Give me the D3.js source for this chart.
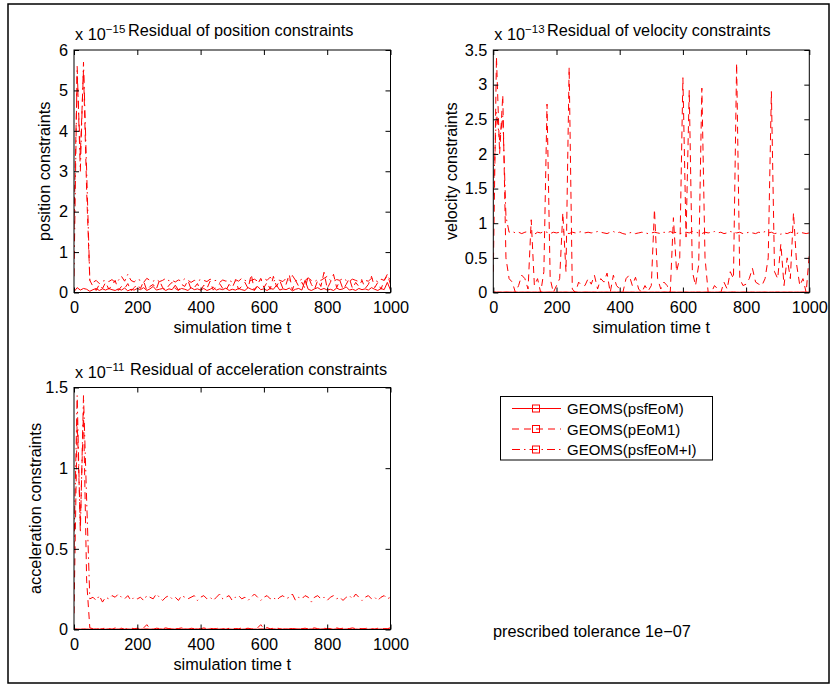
<!DOCTYPE html>
<html>
<head>
<meta charset="utf-8">
<script src="https://cdn.jsdelivr.net/npm/d3@7"></script>
<style>
  html, body { margin: 0; padding: 0; background: #fff; }
  svg { display: block; font-family: "Liberation Sans", Arial, Helvetica, sans-serif; }
</style>
</head>
<body>
<svg id="chart" width="834" height="686"></svg>
<script>
// ---------- data ----------
const simTime = d3.range(0, 1001, 10); // simulation time grid t = 0..1000
const seriesNames = ["GEOMS(psfEoM)", "GEOMS(pEoM1)", "GEOMS(psfEoM+I)"];
const xTicks = [0, 200, 400, 600, 800, 1000];

// position constraint residuals (x 1e-15)
const posPsfEoM = [0.02,
  0.12,0.06,0.1,0.08,0.03,0.07,0.1,0.05,0.09,0.06,
  0.1,0.07,0.05,0.09,0.06,0.11,0.04,0.08,0.06,0.1,
  0.07,0.12,0.05,0.09,0.15,0.06,0.08,0.1,0.05,0.09,
  0.07,0.18,0.06,0.1,0.08,0.05,0.12,0.07,0.09,0.06,
  0.1,0.05,0.08,0.13,0.06,0.09,0.07,0.11,0.05,0.08,
  0.06,0.1,0.07,0.05,0.12,0.08,0.06,0.15,0.07,0.09,
  0.05,0.1,0.08,0.18,0.06,0.09,0.07,0.11,0.04,0.08,
  0.1,0.06,0.3,0.08,0.05,0.09,0.12,0.07,0.1,0.06,
  0.08,0.05,0.11,0.07,0.09,0.14,0.06,0.08,0.05,0.1,
  0.07,0.09,0.06,0.12,0.08,0.05,0.1,0.07,0.25,0.06];
const posPEoM1 = [1.6,
  5.4,3.4,5.5,2.5,0.3,0.15,0.05,0.2,0.1,0.25,
  0.08,0.18,0.3,0.05,0.15,0.1,0.22,0.04,0.12,0.2,
  0.1,0.28,0.05,0.15,0.2,0.08,0.3,0.12,0.06,0.18,
  0.25,0.1,0.05,0.2,0.15,0.3,0.08,0.12,0.22,0.05,
  0.18,0.1,0.28,0.06,0.15,0.22,0.1,0.05,0.2,0.12,
  0.3,0.08,0.15,0.25,0.1,0.45,0.05,0.2,0.35,0.12,
  0.25,0.08,0.4,0.15,0.3,0.1,0.2,0.45,0.06,0.3,
  0.15,0.25,0.1,0.4,0.2,0.08,0.3,0.15,0.5,0.1,
  0.25,0.45,0.12,0.3,0.08,0.2,0.35,0.1,0.25,0.15,
  0.3,0.1,0.2,0.4,0.12,0.25,0.08,0.3,0.45,0.2];
const posPsfEoMI = [0.4,
  5.6,3.0,5.7,3.0,0.3,0.25,0.3,0.22,0.28,0.3,
  0.27,0.32,0.25,0.3,0.4,0.28,0.45,0.3,0.26,0.33,
  0.3,0.25,0.35,0.3,0.28,0.32,0.27,0.3,0.35,0.29,
  0.3,0.26,0.31,0.28,0.34,0.3,0.25,0.3,0.28,0.32,
  0.3,0.27,0.33,0.29,0.3,0.25,0.31,0.28,0.3,0.26,
  0.32,0.28,0.35,0.3,0.27,0.3,0.33,0.28,0.3,0.35,
  0.3,0.38,0.28,0.32,0.3,0.27,0.35,0.3,0.42,0.3,
  0.28,0.33,0.3,0.36,0.3,0.27,0.32,0.3,0.35,0.4,
  0.3,0.28,0.32,0.3,0.35,0.3,0.28,0.33,0.3,0.27,
  0.32,0.3,0.28,0.35,0.3,0.27,0.33,0.3,0.42,0.3];

// velocity constraint residuals (x 1e-13)
const velPsfEoM = [0.01,
  0.006,0.008,0.005,0.009,0.007,0.006,0.008,0.005,0.007,0.006,
  0.008,0.005,0.007,0.006,0.009,0.005,0.007,0.008,0.006,0.005,
  0.007,0.006,0.008,0.005,0.007,0.009,0.006,0.005,0.008,0.007,
  0.006,0.008,0.005,0.007,0.006,0.008,0.005,0.007,0.006,0.009,
  0.005,0.007,0.006,0.008,0.005,0.007,0.006,0.008,0.005,0.007,
  0.006,0.008,0.005,0.009,0.007,0.006,0.008,0.005,0.007,0.006,
  0.008,0.005,0.007,0.006,0.009,0.005,0.007,0.008,0.006,0.005,
  0.007,0.006,0.008,0.005,0.007,0.009,0.006,0.005,0.008,0.007,
  0.006,0.008,0.005,0.007,0.006,0.008,0.005,0.007,0.006,0.009,
  0.005,0.007,0.006,0.008,0.005,0.007,0.006,0.008,0.005,0.007];
const velPEoM1 = [0.3,
  3.4,2.0,2.85,0.5,0.2,0.15,0.0,0.1,0.25,0.2,
  0.05,1.05,0.1,0.2,0.0,0.3,2.72,0.2,0.0,0.1,
  0.2,1.15,0.3,3.25,0.05,0.0,0.15,0.1,0.1,0.2,
  0.12,0.25,0.05,0.2,0.15,0.28,0.0,0.25,0.1,0.05,
  0.0,0.2,0.25,0.1,0.22,0.05,0.0,0.1,0.02,0.1,
  1.2,0.2,0.05,0.15,0.1,0.0,1.08,0.3,0.5,3.1,
  0.8,2.92,0.3,0.1,0.4,2.95,0.5,0.0,0.0,0.1,
  0.05,0.0,0.15,0.05,0.3,0.2,3.31,0.2,0.1,0.12,
  0.2,0.35,0.15,0.12,0.1,0.2,0.5,2.9,0.3,0.2,
  0.7,0.1,0.5,0.2,1.15,0.4,0.1,0.2,0.0,0.55];
const velPsfEoMI = [1.4,
  2.6,2.2,2.55,1.1,0.87,0.88,0.86,0.87,0.85,0.87,
  0.88,0.86,0.84,0.87,0.86,0.88,0.87,0.85,0.87,0.86,
  0.87,0.88,0.86,0.85,0.87,0.86,0.87,0.88,0.86,0.87,
  0.86,0.87,0.88,0.87,0.86,0.85,0.87,0.88,0.86,0.87,
  0.85,0.84,0.86,0.87,0.85,0.86,0.87,0.86,0.85,0.86,
  0.87,0.86,0.85,0.87,0.86,0.88,0.86,0.87,0.85,0.86,
  0.87,0.86,0.88,0.87,0.86,0.85,0.87,0.86,0.87,0.88,
  0.86,0.87,0.85,0.86,0.88,0.87,0.86,0.87,0.85,0.86,
  0.87,0.86,0.85,0.87,0.86,0.88,0.86,0.87,0.85,0.86,
  0.84,0.86,0.85,0.87,0.86,0.85,0.87,0.86,0.85,0.86];

// acceleration constraint residuals (x 1e-11)
const accPsfEoM = [0.004,
  0.003,0.002,0.004,0.003,0.002,0.003,0.004,0.002,0.003,0.002,
  0.004,0.003,0.002,0.003,0.004,0.002,0.003,0.002,0.004,0.003,
  0.002,0.003,0.004,0.002,0.003,0.002,0.004,0.003,0.002,0.003,
  0.004,0.002,0.003,0.002,0.004,0.003,0.002,0.003,0.004,0.002,
  0.003,0.002,0.004,0.003,0.002,0.003,0.004,0.002,0.003,0.002,
  0.004,0.003,0.002,0.003,0.004,0.002,0.003,0.002,0.004,0.003,
  0.002,0.003,0.004,0.002,0.003,0.002,0.004,0.003,0.002,0.003,
  0.004,0.002,0.003,0.002,0.004,0.003,0.002,0.003,0.004,0.002,
  0.003,0.002,0.004,0.003,0.002,0.003,0.004,0.002,0.003,0.002,
  0.004,0.003,0.002,0.003,0.004,0.002,0.003,0.002,0.004,0.003];
const accPEoM1 = [0.1,
  1.3,0.65,1.35,0.3,0.01,0.005,0.01,0.0,0.005,0.01,
  0.005,0.0,0.01,0.005,0.008,0.0,0.006,0.01,0.004,0.008,
  0.005,0.01,0.03,0.005,0.0,0.008,0.006,0.004,0.01,0.005,
  0.008,0.004,0.006,0.01,0.005,0.0,0.008,0.005,0.006,0.004,
  0.01,0.005,0.008,0.004,0.006,0.01,0.005,0.0,0.008,0.005,
  0.006,0.004,0.01,0.005,0.008,0.004,0.006,0.01,0.03,0.005,
  0.012,0.004,0.008,0.01,0.005,0.0,0.008,0.005,0.006,0.004,
  0.01,0.005,0.008,0.004,0.006,0.01,0.005,0.0,0.008,0.005,
  0.006,0.004,0.01,0.005,0.008,0.004,0.006,0.01,0.005,0.008,
  0.004,0.006,0.01,0.005,0.0,0.008,0.005,0.006,0.004,0.012];
const accPsfEoMI = [0.5,
  1.45,0.6,1.45,0.8,0.19,0.2,0.18,0.21,0.17,0.2,
  0.19,0.21,0.2,0.22,0.2,0.19,0.21,0.18,0.2,0.19,
  0.2,0.18,0.21,0.2,0.19,0.22,0.2,0.18,0.2,0.21,
  0.19,0.2,0.18,0.21,0.2,0.19,0.2,0.21,0.18,0.2,
  0.21,0.19,0.2,0.18,0.2,0.22,0.19,0.2,0.21,0.18,
  0.2,0.21,0.19,0.2,0.18,0.2,0.22,0.2,0.18,0.2,
  0.21,0.19,0.2,0.18,0.2,0.21,0.19,0.2,0.22,0.18,
  0.2,0.19,0.21,0.2,0.17,0.2,0.21,0.19,0.2,0.18,
  0.2,0.21,0.19,0.2,0.18,0.2,0.21,0.19,0.22,0.2,
  0.18,0.2,0.21,0.19,0.2,0.18,0.2,0.21,0.19,0.2];

const posTicks = [0, 1, 2, 3, 4, 5, 6];
const velTicks = [0, 0.5, 1, 1.5, 2, 2.5, 3, 3.5];
const accTicks = [0, 0.5, 1, 1.5];
const toleranceText = "prescribed tolerance 1e\u221207";

// ---------- drawing ----------
const svg = d3.select("#chart");
const FONT = 16.3;
const dashes = [null, "7,5", "8,4,1.5,4"];

svg.append("rect").attr("x", 8).attr("y", 4).attr("width", 821).attr("height", 679)
  .attr("fill", "none").attr("stroke", "#000").attr("stroke-width", 1.5);

function panel(cfg) {
  const x = d3.scaleLinear().domain([0, 1000]).range([cfg.x0, cfg.x1]);
  const y = d3.scaleLinear().domain([0, cfg.yTicks[cfg.yTicks.length - 1]]).range([cfg.y1, cfg.y0]);
  const g = svg.append("g");
  const clipId = "clip" + cfg.id;
  svg.append("clipPath").attr("id", clipId).append("rect")
    .attr("x", cfg.x0).attr("y", cfg.y0 - 1).attr("width", cfg.x1 - cfg.x0).attr("height", cfg.y1 - cfg.y0 + 1);

  const line = d3.line().x((d, i) => x(simTime[i])).y(d => y(d));
  const lines = g.append("g").attr("clip-path", `url(#${clipId})`);
  cfg.series.forEach((s, k) => {
    lines.append("path").datum(s).attr("d", line)
      .attr("fill", "none").attr("stroke", "#ff0000").attr("stroke-width", 1)
      .attr("stroke-dasharray", dashes[k]);
  });

  // axes (inward ticks, MATLAB style)
  const fmt = d3.format("~g");
  const ax = g.append("g");
  ax.append("g").attr("transform", `translate(0,${cfg.y1})`)
    .call(d3.axisBottom(x).tickValues(xTicks).tickSize(-5).tickSizeOuter(0).tickPadding(9).tickFormat(fmt));
  ax.append("g").attr("transform", `translate(0,${cfg.y0})`)
    .call(d3.axisTop(x).tickValues(xTicks).tickSize(-5).tickSizeOuter(0).tickFormat(""));
  ax.append("g").attr("transform", `translate(${cfg.x0},0)`)
    .call(d3.axisLeft(y).tickValues(cfg.yTicks).tickSize(-5).tickSizeOuter(0).tickPadding(6).tickFormat(fmt));
  ax.append("g").attr("transform", `translate(${cfg.x1},0)`)
    .call(d3.axisRight(y).tickValues(cfg.yTicks).tickSize(-5).tickSizeOuter(0).tickFormat(""));
  ax.selectAll(".domain").remove();
  ax.selectAll("g").attr("font-size", FONT).attr("font-family", "Liberation Sans, Arial, sans-serif");
  ax.selectAll("text").attr("fill", "#000");
  ax.selectAll("line").attr("stroke", "#000");

  g.append("rect").attr("x", cfg.x0).attr("y", cfg.y0)
    .attr("width", cfg.x1 - cfg.x0).attr("height", cfg.y1 - cfg.y0)
    .attr("fill", "none").attr("stroke", "#000").attr("stroke-width", 1);

  // exponent + title
  const ex = g.append("text").attr("x", cfg.x0 + 1).attr("y", cfg.y0 - 10).attr("font-size", FONT);
  ex.append("tspan").text("x 10");
  ex.append("tspan").attr("dy", -7).attr("font-size", 11.5).text("\u2212" + cfg.exponent);
  g.append("text").attr("x", cfg.titleX).attr("y", cfg.titleY).attr("font-size", FONT).text(cfg.title);

  // x label
  g.append("text").attr("x", (cfg.x0 + cfg.x1) / 2).attr("y", cfg.y1 + 40.5)
    .attr("text-anchor", "middle").attr("font-size", FONT).text("simulation time t");
  // y label
  g.append("text").attr("transform", `translate(${cfg.ylabelX},${(cfg.y0 + cfg.y1) / 2}) rotate(-90)`)
    .attr("text-anchor", "middle").attr("font-size", FONT).text(cfg.ylabel);
}

panel({ id: 1, x0: 74, x1: 390.5, y0: 50, y1: 292.5, yTicks: posTicks,
  series: [posPsfEoM, posPEoM1, posPsfEoMI], exponent: "15",
  title: "Residual of position constraints", titleX: 128, titleY: 36,
  ylabel: "position constraints", ylabelX: 50 });
panel({ id: 2, x0: 493.3, x1: 809.3, y0: 50, y1: 292.5, yTicks: velTicks,
  series: [velPsfEoM, velPEoM1, velPsfEoMI], exponent: "13",
  title: "Residual of velocity constraints", titleX: 547, titleY: 35.5,
  ylabel: "velocity constraints", ylabelX: 457 });
panel({ id: 3, x0: 74, x1: 390.5, y0: 387.5, y1: 629.5, yTicks: accTicks,
  series: [accPsfEoM, accPEoM1, accPsfEoMI], exponent: "11",
  title: "Residual of acceleration constraints", titleX: 130, titleY: 375,
  ylabel: "acceleration constraints", ylabelX: 41 });

// legend
const lg = svg.append("g");
lg.append("rect").attr("x", 500.5).attr("y", 396.5).attr("width", 212).attr("height", 63.5)
  .attr("fill", "#fff").attr("stroke", "#000").attr("stroke-width", 1);
seriesNames.forEach((name, k) => {
  const cy = 408.5 + k * 20.5;
  lg.append("line").attr("x1", 512).attr("x2", 561).attr("y1", cy).attr("y2", cy)
    .attr("stroke", "#ff0000").attr("stroke-width", 1).attr("stroke-dasharray", dashes[k]);
  lg.append("rect").attr("x", 532.5).attr("y", cy - 3.5).attr("width", 7).attr("height", 7)
    .attr("fill", "none").attr("stroke", "#ff0000").attr("stroke-width", 1);
  lg.append("text").attr("x", 567).attr("y", cy + 5.5).attr("font-size", 15).text(name);
});

svg.append("text").attr("x", 493).attr("y", 637).attr("font-size", FONT).text(toleranceText);
</script>
</body>
</html>
